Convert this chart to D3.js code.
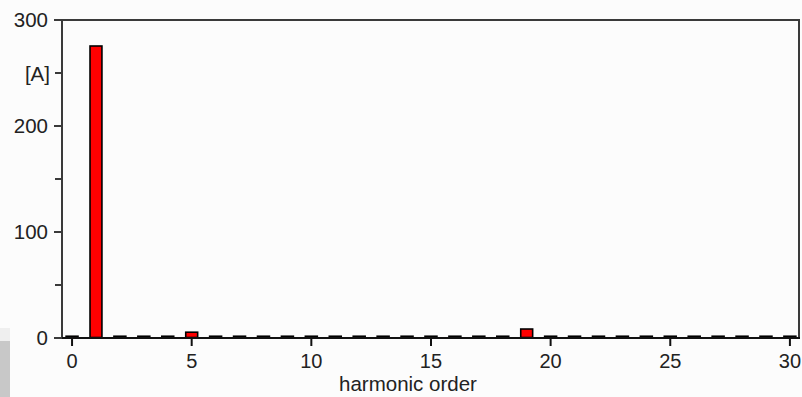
<!DOCTYPE html>
<html><head><meta charset="utf-8">
<script src="https://cdn.jsdelivr.net/npm/d3@7/dist/d3.min.js"></script>
<style>html,body{margin:0;padding:0;background:#fcfcfc;}svg{display:block;}</style>
</head><body>
<script>
const harmonics = d3.range(0, 31);
const current = [1.2,275,1.2,1.2,1.2,5,1.2,1.2,1.2,1.2,1.2,1.2,1.2,1.2,1.2,1.2,1.2,1.2,1.2,8,1.2,1.2,1.2,1.2,1.2,1.2,1.2,1.2,1.2,1.2,1.2];
const xTicks = [0,5,10,15,20,25,30];
const yTicks = [0,100,200,300];
const yMinor = [50,150,250];
const yUnitLabel = "[A]";
const xTitle = "harmonic order";

const W = 802, H = 397;
const svg = d3.select("body").append("svg").attr("width", W).attr("height", H);
svg.append("rect").attr("width", W).attr("height", H).attr("fill", "#fcfcfc");
// gray side artifact
svg.append("rect").attr("x",0).attr("y",328).attr("width",10).attr("height",13).attr("fill","#efefef");
svg.append("rect").attr("x",0).attr("y",341).attr("width",10).attr("height",56).attr("fill","#c8c8c8");

const x = d3.scaleLinear().domain([-0.42, 30.38]).range([62, 799]);
const y = d3.scaleLinear().domain([0, 300]).range([338, 20]);
const font = "'Liberation Sans', Arial, sans-serif";
const bw = 0.54;

// bars
svg.append("g").selectAll("rect").data(harmonics).join("rect")
  .attr("x", d => x(d - bw/2)+0.5)
  .attr("width", d => x(bw) - x(0) - 1)
  .attr("y", (d,i) => y(current[i]) - 0.5)
  .attr("height", (d,i) => Math.max(1, y(0) - y(current[i])))
  .attr("fill", "#ff0000").attr("stroke", "#000").attr("stroke-width", 1.6);

// frame
const c = "#3a3a3a";
svg.append("line").attr("x1",54).attr("x2",800).attr("y1",20).attr("y2",20).attr("stroke",c).attr("stroke-width",2);
svg.append("line").attr("x1",799).attr("x2",799).attr("y1",19).attr("y2",338).attr("stroke",c).attr("stroke-width",2);
svg.append("line").attr("x1",62).attr("x2",62).attr("y1",19).attr("y2",339).attr("stroke",c).attr("stroke-width",2);
svg.append("line").attr("x1",54).attr("x2",800).attr("y1",338).attr("y2",338).attr("stroke","#111").attr("stroke-width",2);

// y ticks
const yg = svg.append("g");
yTicks.forEach(t => {
  yg.append("line").attr("x1",54).attr("x2",62).attr("y1",y(t)).attr("y2",y(t)).attr("stroke",c).attr("stroke-width",2);
  yg.append("text").attr("x",48).attr("y",y(t)).attr("dy","0.36em").attr("text-anchor","end")
    .attr("font-family",font).attr("font-size",20.5).attr("fill","#222").text(t);
});
yMinor.forEach(t => {
  yg.append("line").attr("x1",55).attr("x2",62).attr("y1",y(t)).attr("y2",y(t)).attr("stroke",c).attr("stroke-width",2);
});
yg.append("text").attr("x",50).attr("y",y(250)+1).attr("dy","0.36em").attr("text-anchor","end")
  .attr("font-family",font).attr("font-size",20.5).attr("fill","#222").text(yUnitLabel);

// x ticks
const xg = svg.append("g");
xTicks.forEach(t => {
  xg.append("line").attr("x1",x(t)).attr("x2",x(t)).attr("y1",338).attr("y2",346).attr("stroke","#111").attr("stroke-width",2);
  xg.append("text").attr("x",x(t)).attr("y",368).attr("text-anchor","middle")
    .attr("font-family",font).attr("font-size",20).attr("fill","#222").text(t);
});
svg.append("text").attr("x",408).attr("y",391).attr("text-anchor","middle")
  .attr("font-family",font).attr("font-size",20.5).attr("fill","#222").text(xTitle);
</script>
</body></html>
